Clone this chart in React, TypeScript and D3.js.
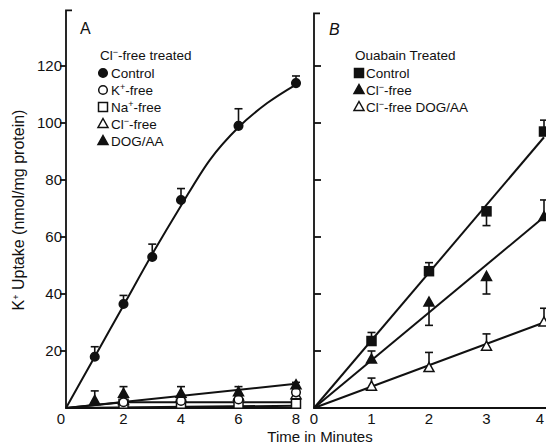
import * as d3 from 'd3'

// Panel A: Cl--free treated, time 0-8 min
const A_CONTROL_T = [1, 2, 3, 4, 6, 8]
const A_CONTROL_V = [18, 36.5, 53, 73, 99, 114]
const A_CONTROL_E = [3.5, 3, 4.5, 4, 6, 2.5]
const A_CONTROL_FIT = [[0, 0], [1, 18], [2, 36], [3, 54], [4, 71], [5, 87], [6, 98.5], [7, 107], [8, 113.5]]

const A_LOW_T = [2, 4, 6, 8]
const A_KFREE_V = [2, 2.5, 3, 5.5]
const A_NAFREE_V = [1.5, 1.5, 1.5, 1.5]
const A_CLFREE_V = [2.5, 3.5, 4, 4.5]
const A_DOG_T = [1, 2, 4, 6, 8]
const A_DOG_V = [2.5, 5, 5, 5.5, 8]
const A_DOG_E = [3.5, 2.5, 2.5, 2, 1]
const A_DOG_FIT = [[0, 0], [8, 8.5]]
const A_K_FIT = [[0, 0], [2, 2], [8, 2]]
const A_NA_FIT = [[0, 0], [8, 0.8]]

// Panel B: ouabain treated, time 0-4 min
const B_T = [1, 2, 3, 4]
const B_CONTROL_V = [23.5, 48, 69, 97]
const B_CONTROL_E = [3, 3, -5, 4]
const B_CLFREE_V = [17, 37, 46, 67]
const B_CLFREE_E = [3, -8, -6, 6]
const B_DOG_V = [7.5, 14, 21.5, 30]
const B_DOG_E = [3, 5.5, 4.5, 5]
const B_CONTROL_FIT = [[0, 0], [4, 95]]
const B_CLFREE_FIT = [[0, 0], [4, 67]]
const B_DOG_FIT = [[0, 0], [4, 30]]

const Y_TICKS = [20, 40, 60, 80, 100, 120]
const XA_TICKS = [0, 2, 4, 6, 8]
const XB_TICKS = [0, 1, 2, 3, 4]

const FONT = 'Liberation Sans, Arial, sans-serif'
const INK = '#111'

type Shape = 'circle' | 'square' | 'triangle'

function Marker({ x, y, shape, filled }: { x: number; y: number; shape: Shape; filled: boolean }) {
  const fill = filled ? INK : '#fff'
  if (shape === 'circle') return <circle cx={x} cy={y} r={4.3} fill={fill} stroke={INK} strokeWidth={1.5} />
  if (shape === 'square') return <rect x={x - 4.5} y={y - 4.5} width={9} height={9} fill={fill} stroke={INK} strokeWidth={1.5} />
  return <path d={`M${x},${y - 5.5}L${x + 5},${y + 3.5}L${x - 5},${y + 3.5}Z`} fill={fill} stroke={INK} strokeWidth={1.5} />
}

function Series({ xs, vs, es, shape, filled, xScale, yScale }: any) {
  return (
    <g>
      {xs.map((t: number, i: number) => {
        const e = es ? es[i] : 0
        const cx = xScale(t)
        const cy = yScale(vs[i])
        return (
          <g key={i}>
            {e !== 0 && (
              <g stroke={INK} strokeWidth={1.6}>
                <line x1={cx} x2={cx} y1={cy} y2={yScale(vs[i] + e)} />
                <line x1={cx - 4} x2={cx + 4} y1={yScale(vs[i] + e)} y2={yScale(vs[i] + e)} />
              </g>
            )}
            <Marker x={cx} y={cy} shape={shape} filled={filled} />
          </g>
        )
      })}
    </g>
  )
}

function Sup({ base, sup, rest }: { base: string; sup: string; rest: string }) {
  return (
    <>
      {base}
      <tspan dy={-5} fontSize={9}>{sup}</tspan>
      <tspan dy={5}>{rest}</tspan>
    </>
  )
}

export default function App() {
  const W = 546
  const H = 445
  const y = d3.scaleLinear().domain([0, 120]).range([408, 66])
  const xA = d3.scaleLinear().domain([0, 8]).range([66, 296])
  const xB = d3.scaleLinear().domain([0, 4]).range([314, 544])

  const lineA = d3.line<number[]>().x(d => xA(d[0])).y(d => y(d[1]))
  const curveA = d3.line<number[]>().x(d => xA(d[0])).y(d => y(d[1])).curve(d3.curveMonotoneX)
  const lineB = d3.line<number[]>().x(d => xB(d[0])).y(d => y(d[1]))

  const legA: [Shape, boolean, any][] = [
    ['circle', true, 'Control'],
    ['circle', false, <Sup base="K" sup="+" rest="-free" />],
    ['square', false, <Sup base="Na" sup="+" rest="-free" />],
    ['triangle', false, <Sup base="Cl" sup="−" rest="-free" />],
    ['triangle', true, 'DOG/AA'],
  ]
  const legB: [Shape, boolean, any][] = [
    ['square', true, 'Control'],
    ['triangle', true, <Sup base="Cl" sup="−" rest="-free" />],
    ['triangle', false, <Sup base="Cl" sup="−" rest="-free DOG/AA" />],
  ]

  return (
    <svg width={W} height={H} style={{ position: 'absolute', left: 0, top: 0, background: '#fff' }} fontFamily={FONT}>
      {/* axes */}
      <g stroke={INK} strokeWidth={1.8} fill="none">
        <path d={`M${xA(0) + 6},${y(139.5)}H${xA(0)}V${y(0)}H300`} />
        {Y_TICKS.map(t => <line key={t} x1={xA(0) - 6} x2={xA(0)} y1={y(t)} y2={y(t)} />)}
        <path d={`M${xB(0) + 6},${y(138.5)}H${xB(0)}V${y(0)}H546`} />
        {Y_TICKS.map(t => <line key={t} x1={xB(0)} x2={xB(0) + 7} y1={y(t)} y2={y(t)} />)}
      </g>
      {Y_TICKS.map(t => (
        <text key={t} x={xA(0) - 4} y={y(t) + 5} fontSize={15} textAnchor="end" fill={INK}>{t}</text>
      ))}
      {XA_TICKS.map(t => (
        <text key={t} x={xA(t) - (t === 0 ? 5 : 0)} y={424} fontSize={15} textAnchor="middle" fill={INK}>{t}</text>
      ))}
      {XB_TICKS.map(t => (
        <text key={t} x={Math.min(xB(t), 540)} y={424} fontSize={15} textAnchor="middle" fill={INK}>{t}</text>
      ))}
      <text x={320} y={442} fontSize={15} textAnchor="middle" fill={INK}>Time in Minutes</text>
      <text transform="translate(24,210) rotate(-90)" fontSize={16} textAnchor="middle" fill={INK}>
        <Sup base="K" sup="+" rest=" Uptake (nmol/mg protein)" />
      </text>

      <text x={80} y={34} fontSize={16} fill={INK}>A</text>
      <text x={329} y={35} fontSize={16} fill={INK} fontStyle="italic">B</text>

      {/* fit lines */}
      <g stroke={INK} strokeWidth={2} fill="none">
        <path d={curveA(A_CONTROL_FIT) || ''} />
        <path d={lineA(A_DOG_FIT) || ''} />
        <path d={lineA(A_K_FIT) || ''} />
        <path d={lineA(A_NA_FIT) || ''} />
        <path d={lineB(B_CONTROL_FIT) || ''} />
        <path d={lineB(B_CLFREE_FIT) || ''} />
        <path d={lineB(B_DOG_FIT) || ''} />
      </g>

      {/* Panel A data */}
      <Series xs={A_LOW_T} vs={A_NAFREE_V} shape="square" filled={false} xScale={xA} yScale={y} />
      <Series xs={A_LOW_T} vs={A_CLFREE_V} shape="triangle" filled={false} xScale={xA} yScale={y} />
      <Series xs={A_LOW_T} vs={A_KFREE_V} shape="circle" filled={false} xScale={xA} yScale={y} />
      <Series xs={A_DOG_T} vs={A_DOG_V} es={A_DOG_E} shape="triangle" filled={true} xScale={xA} yScale={y} />
      <Series xs={A_CONTROL_T} vs={A_CONTROL_V} es={A_CONTROL_E} shape="circle" filled={true} xScale={xA} yScale={y} />

      {/* Panel B data */}
      <Series xs={B_T} vs={B_CONTROL_V} es={B_CONTROL_E} shape="square" filled={true} xScale={xB} yScale={y} />
      <Series xs={B_T} vs={B_CLFREE_V} es={B_CLFREE_E} shape="triangle" filled={true} xScale={xB} yScale={y} />
      <Series xs={B_T} vs={B_DOG_V} es={B_DOG_E} shape="triangle" filled={false} xScale={xB} yScale={y} />

      {/* Legend A */}
      <text x={100} y={60} fontSize={13.5} fill={INK}><Sup base="Cl" sup="−" rest="-free treated" /></text>
      {legA.map(([s, f, label], i) => (
        <g key={i}>
          <Marker x={103} y={73 + i * 17} shape={s} filled={f} />
          <text x={111} y={78 + i * 17} fontSize={13.5} fill={INK}>{label}</text>
        </g>
      ))}

      {/* Legend B */}
      <text x={355} y={60} fontSize={13.5} fill={INK}>Ouabain Treated</text>
      {legB.map(([s, f, label], i) => (
        <g key={i}>
          <Marker x={359} y={73 + i * 17} shape={s} filled={f} />
          <text x={366} y={78 + i * 17} fontSize={13.5} fill={INK}>{label}</text>
        </g>
      ))}
    </svg>
  )
}
